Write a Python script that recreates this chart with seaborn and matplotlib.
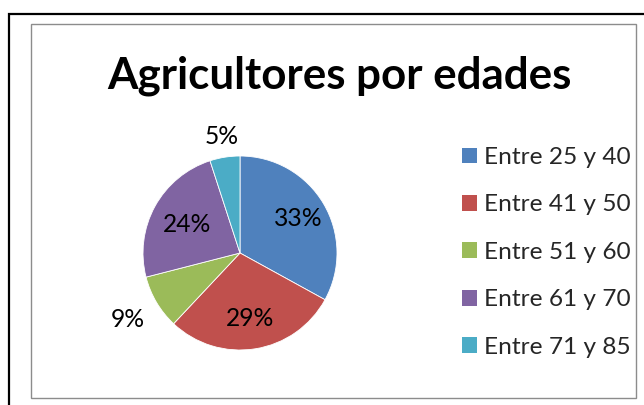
import matplotlib
matplotlib.use("Agg")
import matplotlib.pyplot as plt
import seaborn as sns
from matplotlib.patches import Rectangle
import numpy as np

# ---- data ----
categories = ["Entre 25 y 40", "Entre 41 y 50", "Entre 51 y 60", "Entre 61 y 70", "Entre 71 y 85"]
values = [33, 29, 9, 24, 5]
colors = ["#4F81BD", "#C0504D", "#9BBB59", "#8064A2", "#4BACC6"]
title = "Agricultores por edades"
label_dist = [0.70, 0.68, 1.34, 0.62, 1.22]   # label distance as fraction of radius

sns.set_theme(style="white")
plt.rcParams['font.family'] = ['Lato', 'DejaVu Sans']

W, H = 644, 405
fig = plt.figure(figsize=(W / 100, H / 100), dpi=100)
fig.patch.set_facecolor('white')
renderer = fig.canvas.get_renderer()


def fit(text, target_px, **kw):
    t = fig.text(0, 0, text, fontsize=20, **kw)
    w = t.get_window_extent(renderer).width
    t.remove()
    return 20 * target_px / w


# ---- frames ----
fig.add_artist(Rectangle((9 / W, -0.2), 2, 1.2 - 13.5 / H, transform=fig.transFigure,
                         fill=False, edgecolor='black', linewidth=1.6, clip_on=False))
fig.add_artist(Rectangle((30.5 / W, 1 - 398 / H), (636 - 30.5) / W, (398 - 24) / H,
                         transform=fig.transFigure, fill=False, edgecolor='#8c8c8c',
                         linewidth=1.0))

# ---- pie ----
cx, cy, side = 240, 253, 300
ax = fig.add_axes([(cx - side / 2) / W, (H - cy - side / 2) / H, side / W, side / H])
R = 0.97
wedges, _ = ax.pie(values, colors=colors, startangle=90, counterclock=False, radius=R,
                   wedgeprops=dict(edgecolor='white', linewidth=0.6))
ax.set_xlim(-1.5, 1.5)
ax.set_ylim(-1.5, 1.5)
ax.set_aspect('equal')
ax.axis('off')

lab_fs = fit("33%", 45) * 1.07
for w, v, d in zip(wedges, values, label_dist):
    th = np.deg2rad((w.theta1 + w.theta2) / 2)
    ax.text(d * R * np.cos(th), d * R * np.sin(th), f"{v}%", ha='center', va='center',
            fontsize=lab_fs, color='black')

# ---- title ----
title_fs = fit(title, 465, weight='bold')
fig.text(339.5 / W, 1 - 88 / H, title, ha='center', va='baseline', fontsize=title_fs,
         weight='bold', color='black')

# ---- legend ----
leg_fs = fit(categories[0], 141) * 1.04
fs_px = leg_fs * 100 / 72
leg = fig.legend(wedges, categories, loc='upper left',
                 bbox_to_anchor=(462.5 / W, 1 - 147 / H), frameon=False,
                 fontsize=leg_fs, handlelength=15 / fs_px, handleheight=15 / fs_px,
                 handletextpad=7 / fs_px, labelspacing=(47.6 - 0.865 * fs_px) / fs_px,
                 borderpad=0, borderaxespad=0)
for h in leg.legend_handles:
    h.set_edgecolor('none')

fig.savefig("out.png", dpi=100, facecolor='white')
